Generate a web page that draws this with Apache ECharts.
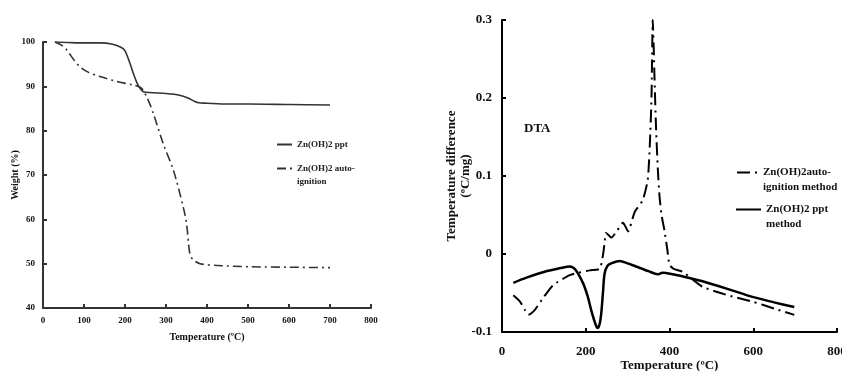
<!DOCTYPE html>
<html>
<head>
<meta charset="utf-8">
<script src="https://cdn.jsdelivr.net/npm/echarts@6/dist/echarts.min.js"></script>
<style>
  html, body { margin: 0; padding: 0; background: #fff; }
  #chart { width: 842px; height: 371px; }
</style>
</head>
<body>
<div id="chart"></div>
<script>
// TGA (left) and DTA (right) curves of Zn(OH)2

// TGA - Zn(OH)2 ppt
const tgaPptTemp = [29, 60, 100, 140, 170, 190, 200, 212, 222, 230, 238, 245, 260, 300, 320, 340, 355, 370, 380, 400, 450, 500, 600, 700];
const tgaPptWeight = [100, 99.9, 99.8, 99.8, 99.5, 98.8, 98.0, 95.2, 92.5, 90.6, 89.4, 88.8, 88.6, 88.4, 88.2, 87.8, 87.3, 86.6, 86.3, 86.2, 86.0, 86.0, 85.9, 85.8];

// TGA - Zn(OH)2 auto-ignition
const tgaAutoTemp = [29, 45, 58, 75, 90, 110, 139, 180, 220, 240, 255, 269, 293, 318, 342, 350, 358, 365, 383, 424, 505, 600, 700];
const tgaAutoWeight = [100, 99.3, 98.2, 96.0, 94.4, 93.2, 92.2, 91.1, 90.3, 89.6, 87.2, 83.9, 77.1, 71.1, 62.8, 59.1, 52.3, 51.0, 50.0, 49.6, 49.3, 49.2, 49.1];

// DTA - Zn(OH)2 ppt method
const dtaPptTemp = [27, 60, 100, 140, 162, 175, 194, 205, 213, 222, 228, 233, 237, 241, 245, 252, 261, 281, 300, 320, 350, 372, 383, 408, 450, 479, 540, 598, 650, 698];
const dtaPptValue = [-0.037, -0.030, -0.023, -0.018, -0.016, -0.020, -0.038, -0.055, -0.072, -0.088, -0.095, -0.090, -0.076, -0.050, -0.025, -0.015, -0.012, -0.009, -0.012, -0.016, -0.022, -0.026, -0.024, -0.026, -0.031, -0.035, -0.045, -0.055, -0.062, -0.068];

// DTA - Zn(OH)2 auto-ignition method
const dtaAutoTemp = [27, 43, 55, 63, 70, 78, 100, 122, 162, 209, 233, 240, 245, 248, 255, 261, 275, 289, 295, 301, 317, 336, 348, 353, 357, 360, 362, 365, 368, 372, 376, 381, 388, 395, 400, 410, 432, 479, 540, 598, 650, 698];
const dtaAutoValue = [-0.053, -0.061, -0.072, -0.078, -0.076, -0.072, -0.055, -0.040, -0.027, -0.021, -0.019, -0.005, 0.014, 0.027, 0.024, 0.021, 0.030, 0.040, 0.035, 0.029, 0.054, 0.069, 0.095, 0.14, 0.20, 0.30, 0.27, 0.21, 0.16, 0.11, 0.075, 0.05, 0.03, 0.005, -0.014, -0.019, -0.023, -0.042, -0.053, -0.061, -0.070, -0.078];

const pair = (xs, ys) => xs.map((x, i) => [x, ys[i]]);

const serifFont = "'Liberation Serif', 'DejaVu Serif', serif";
const dashDotLeft = [9, 4, 2, 4];
const dashDotRight = [13, 5, 2, 5];

const chart = echarts.init(document.getElementById('chart'));

function axisStyle(color, width, fontSize) {
    return {
        nameMoveOverlap: false,
        axisLine: { show: true, onZero: false, lineStyle: { color: color, width: width } },
        axisTick: { show: true, inside: true, length: 4, lineStyle: { color: color, width: width } },
        splitLine: { show: false },
        axisLabel: { color: '#111', fontFamily: serifFont, fontWeight: 'bold', fontSize: fontSize }
    };
}

// multi-line legend text: a leading blank line keeps the sample line on the first row
const legendText = (lines) => '\n' + lines.join('\n');
// legend shows only the line sample, no marker
const noMarker = { color: 'rgba(0,0,0,0)', borderWidth: 0 };

const option = {
    animation: false,
    backgroundColor: '#fff',
    title: {
        text: 'DTA',
        left: 519,
        top: 117,
        textStyle: { fontFamily: serifFont, fontWeight: 'bold', fontSize: 13, color: '#111' }
    },
    legend: [
        {
            data: ['Zn(OH)2 ppt'],
            left: 271, top: 135,
            itemWidth: 15, itemHeight: 10, itemStyle: noMarker,
            textStyle: { fontFamily: serifFont, fontWeight: 'bold', fontSize: 9, color: '#222' }
        },
        {
            data: ['Zn(OH)2 auto-ignition'],
            left: 271, top: 144,
            itemWidth: 15, itemHeight: 10, itemStyle: noMarker,
            formatter: () => legendText(['Zn(OH)2 auto-', 'ignition']),
            textStyle: { fontFamily: serifFont, fontWeight: 'bold', fontSize: 9, lineHeight: 13, color: '#222' }
        },
        {
            data: ['Zn(OH)2auto-ignition method'],
            left: 731, top: 145,
            itemWidth: 21, itemHeight: 10, itemStyle: noMarker,
            formatter: () => legendText(['Zn(OH)2auto-', 'ignition method']),
            textStyle: { fontFamily: serifFont, fontWeight: 'bold', fontSize: 11, lineHeight: 15, color: '#111' }
        },
        {
            data: ['Zn(OH)2 ppt method'],
            left: 730, top: 182,
            itemWidth: 25, itemHeight: 10, itemStyle: noMarker,
            formatter: () => legendText(['Zn(OH)2 ppt', 'method']),
            textStyle: { fontFamily: serifFont, fontWeight: 'bold', fontSize: 11, lineHeight: 15, color: '#111' }
        }
    ],
    grid: [
        { left: 43, top: 42, width: 328, height: 266, outerBoundsMode: 'none' },
        { left: 502, top: 20, width: 335, height: 312, outerBoundsMode: 'none' }
    ],
    xAxis: [
        Object.assign(axisStyle('#333', 2, 9), {
            gridIndex: 0, type: 'value', min: 0, max: 800, interval: 100,
            name: 'Temperature (ºC)', nameLocation: 'middle', nameGap: 24,
            nameTextStyle: { color: '#111', fontFamily: serifFont, fontWeight: 'bold', fontSize: 10 }
        }),
        Object.assign(axisStyle('#000', 2, 13), {
            gridIndex: 1, type: 'value', min: 0, max: 800, interval: 200,
            axisLabel: { color: '#111', fontFamily: serifFont, fontWeight: 'bold', fontSize: 13, margin: 13 },
            name: 'Temperature (ºC)', nameLocation: 'middle', nameGap: 27,
            nameTextStyle: { color: '#111', fontFamily: serifFont, fontWeight: 'bold', fontSize: 13 }
        })
    ],
    yAxis: [
        Object.assign(axisStyle('#333', 2, 9), {
            gridIndex: 0, type: 'value', min: 40, max: 100, interval: 10,
            name: 'Weight (%)', nameLocation: 'middle', nameRotate: 90, nameGap: 23,
            nameTextStyle: { color: '#111', fontFamily: serifFont, fontWeight: 'bold', fontSize: 10 }
        }),
        Object.assign(axisStyle('#000', 2, 13), {
            gridIndex: 1, type: 'value', min: -0.1, max: 0.3, interval: 0.1,
            axisLabel: {
                color: '#111', fontFamily: serifFont, fontWeight: 'bold', fontSize: 13, margin: 10,
                formatter: v => String(Math.round(v * 10) / 10)
            },
            name: 'Temperature difference\n(ºC/mg)', nameLocation: 'middle', nameRotate: 90, nameGap: 29,
            nameTextStyle: { color: '#111', fontFamily: serifFont, fontWeight: 'bold', fontSize: 13, lineHeight: 14 }
        })
    ],
    series: [
        {
            name: 'Zn(OH)2 ppt', type: 'line', xAxisIndex: 0, yAxisIndex: 0,
            data: pair(tgaPptTemp, tgaPptWeight), symbol: 'none', smooth: 0.3,
            lineStyle: { color: '#333', width: 1.6 }, itemStyle: { color: '#333' }
        },
        {
            name: 'Zn(OH)2 auto-ignition', type: 'line', xAxisIndex: 0, yAxisIndex: 0,
            data: pair(tgaAutoTemp, tgaAutoWeight), symbol: 'none', smooth: 0.3,
            lineStyle: { color: '#333', width: 1.6, type: dashDotLeft }, itemStyle: { color: '#333' }
        },
        {
            name: 'Zn(OH)2auto-ignition method', type: 'line', xAxisIndex: 1, yAxisIndex: 1,
            data: pair(dtaAutoTemp, dtaAutoValue), symbol: 'none', smooth: 0.2,
            lineStyle: { color: '#000', width: 2, type: dashDotRight }, itemStyle: { color: '#000' }
        },
        {
            name: 'Zn(OH)2 ppt method', type: 'line', xAxisIndex: 1, yAxisIndex: 1,
            data: pair(dtaPptTemp, dtaPptValue), symbol: 'none', smooth: 0.3,
            lineStyle: { color: '#000', width: 2.5 }, itemStyle: { color: '#000' }
        }
    ]
};

chart.setOption(option);

window.addEventListener('resize', function () {
    chart.resize();
});
</script>
</body>
</html>
